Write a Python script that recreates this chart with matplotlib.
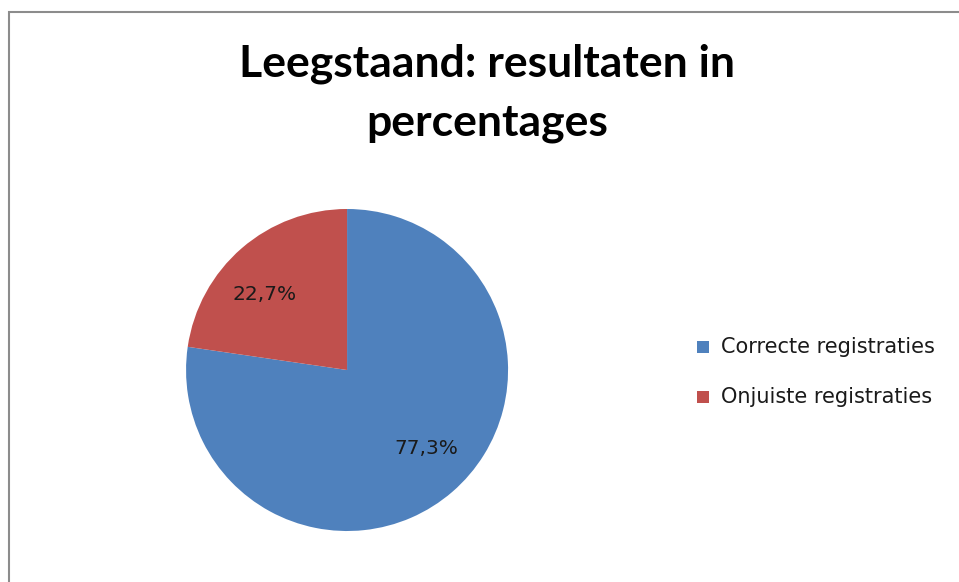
import matplotlib.pyplot as plt
from matplotlib.patches import Rectangle

plt.rcParams["font.family"] = ["Lato", "DejaVu Sans"]

# data
categories = ["Correcte registraties", "Onjuiste registraties"]
values = [77.3, 22.7]
labels = ["77,3%", "22,7%"]
colors = ["#4F81BD", "#C0504D"]

fig = plt.figure(figsize=(9.59, 5.82), dpi=100)

# chart-area border (only left and top visible in the crop)
fig.patches.append(
    Rectangle((9 / 959, -0.1), 1.2, 1 - 12 / 582 + 0.1, transform=fig.transFigure,
              facecolor="none", edgecolor="#8c8c8c", lw=1.5)
)

ax = fig.add_axes([0.194, 0.0876, 0.3358, 0.5533])
wedges, _ = ax.pie(values, colors=colors, startangle=90, counterclock=False,
                   wedgeprops=dict(linewidth=0))
ax.set_xlim(-1, 1)
ax.set_ylim(-1, 1)
ax.set_aspect("equal")

# data labels
lab_font = dict(fontsize=14.5, color="#1a1a1a", family="DejaVu Sans")
ax.text(0.49, -0.49, labels[0], ha="center", va="center", **lab_font)
ax.text(-0.51, 0.47, labels[1], ha="center", va="center", **lab_font)

fig.text(0.508, 1 - 77 / 582, "Leegstaand: resultaten in", ha="center", va="baseline",
         fontsize=32, fontweight="bold", color="#000000")
fig.text(0.508, 1 - 135 / 582, "percentages", ha="center", va="baseline",
         fontsize=32, fontweight="bold", color="#000000")

# legend
for i, (cat, col) in enumerate(zip(categories, colors)):
    y = 1 - (347 + 50 * i) / 582
    fig.patches.append(Rectangle((697 / 959, y - 6 / 582), 12 / 959, 12 / 582,
                                 transform=fig.transFigure, facecolor=col, edgecolor="none"))
    fig.text(721 / 959, y, cat, ha="left", va="center", fontsize=15,
             color="#1a1a1a", family="DejaVu Sans")

fig.savefig("out.png", dpi=100)
